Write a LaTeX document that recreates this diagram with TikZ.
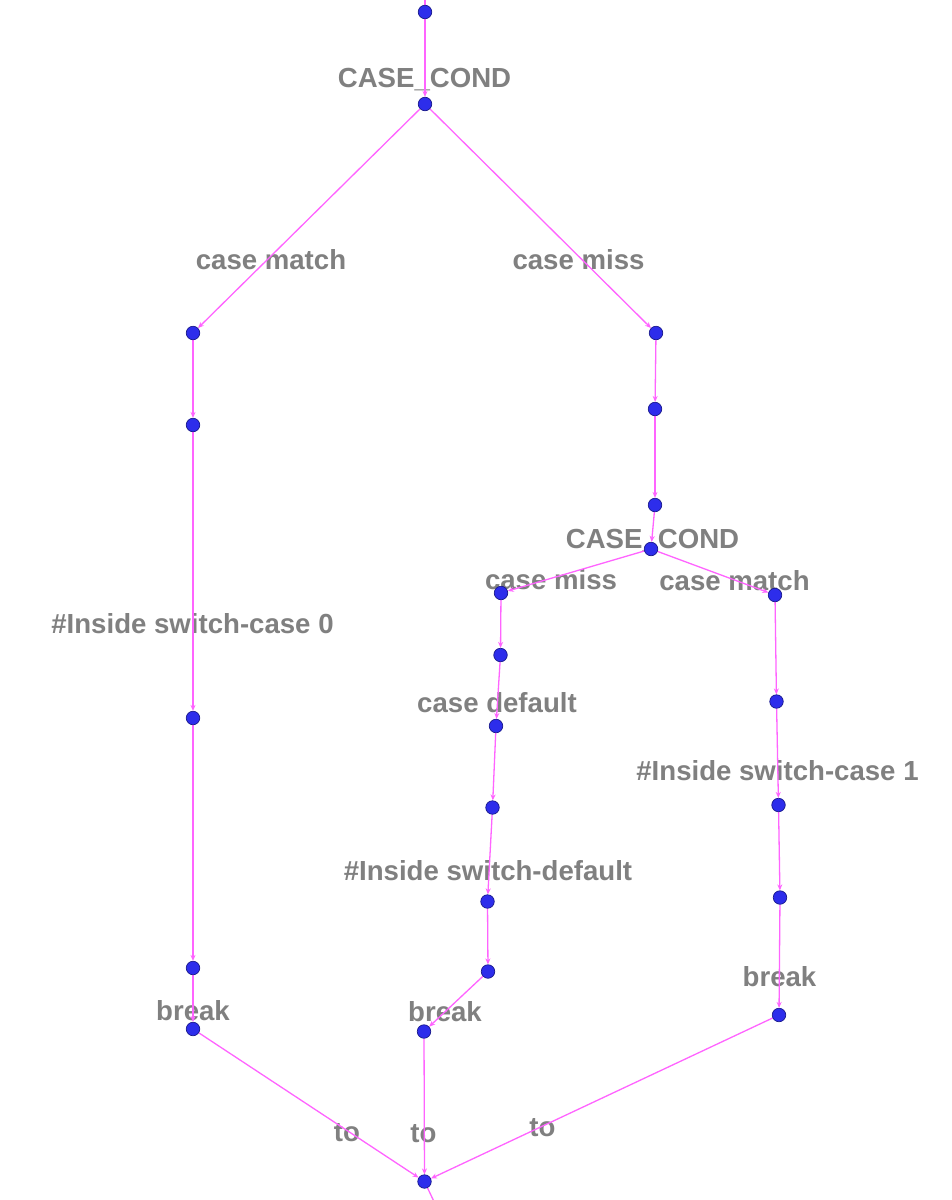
\documentclass[tikz,border=0pt]{standalone}
\usepackage{fontspec}
\setmainfont{Liberation Sans}
\usetikzlibrary{arrows.meta}
\pgfdeclarelayer{back}
\pgfdeclarelayer{front}
\pgfsetlayers{back,main,front}
\definecolor{edgec}{RGB}{255,100,255}
\definecolor{dotc}{RGB}{45,45,235}
\definecolor{dotb}{RGB}{25,25,140}
\definecolor{labc}{RGB}{128,128,128}
\tikzset{
  dot/.style={circle,minimum size=13.5pt,inner sep=0pt,fill=dotc,draw=dotb,line width=0.7pt},
  lab/.style={anchor=base,inner sep=0pt,text=labc,font=\fontsize{27.6pt}{30pt}\selectfont\bfseries},
  edge/.style={draw=edgec,line width=1.3pt,-{Stealth[length=6pt,width=5pt]}},
  plain/.style={draw=edgec,line width=1.3pt}
}
\begin{document}
\begin{tikzpicture}[x=1pt,y=-1pt]
\useasboundingbox (0,0) rectangle (951,1200);
% dots
\begin{pgfonlayer}{front}
\node[dot] (n0) at (425,12) {};
\node[dot] (n1) at (425,104) {};
\node[dot] (n2) at (193,333) {};
\node[dot] (n3) at (193,425) {};
\node[dot] (n4) at (193,718) {};
\node[dot] (n5) at (193,968) {};
\node[dot] (n6) at (193,1029) {};
\node[dot] (m1) at (656,333) {};
\node[dot] (m2) at (655,409) {};
\node[dot] (m3) at (655,505) {};
\node[dot] (c2) at (651,549) {};
\node[dot] (a1) at (501,593) {};
\node[dot] (a2) at (500.5,655) {};
\node[dot] (a3) at (496,726) {};
\node[dot] (a4) at (492.5,807.5) {};
\node[dot] (a5) at (487.5,901.5) {};
\node[dot] (a6) at (488,971.5) {};
\node[dot] (a7) at (424,1031.5) {};
\node[dot] (b1) at (775,595) {};
\node[dot] (b2) at (776.5,701.5) {};
\node[dot] (b3) at (778.5,805) {};
\node[dot] (b4) at (780,897.5) {};
\node[dot] (b5) at (779,1015) {};
\node[dot] (e) at (424.5,1181.5) {};
\end{pgfonlayer}
\coordinate (top) at (425,-10);
\coordinate (bot) at (438,1210);
% labels
\begin{pgfonlayer}{back}
\fill[white] (0,0) rectangle (951,1200);
\node[lab] (l1) at (424.5,87) {CASE\_COND};
\node[lab] (l2) at (271,269) {case match};
\node[lab] (l3) at (578.5,269) {case miss};
\node[lab] (l4) at (192.5,633) {\#Inside switch-case 0};
\node[lab] (l5) at (652.5,548) {CASE\_COND};
\node[lab] (l6) at (551,589) {case miss};
\node[lab] (l7) at (734.5,590) {case match};
\node[lab] (l8) at (497,712.5) {case default};
\node[lab] (l9) at (777.5,780.5) {\#Inside switch-case 1};
\node[lab] (l10) at (488,880.5) {\#Inside switch-default};
\node[lab] (l11) at (779.5,986) {break};
\node[lab] (l12) at (193,1020) {break};
\node[lab] (l13) at (445,1021) {break};
\node[lab] (l14) at (347,1141.5) {to};
\node[lab] (l15) at (423.5,1142) {to};
\node[lab] (l16) at (542.5,1136.5) {to};
\end{pgfonlayer}
% edges
\draw[plain] (top) -- (n0);
\draw[edge] (n0) -- (n1);
\draw[edge] (n1) -- (n2);
\draw[edge] (n1) -- (m1);
\draw[edge] (n2) -- (n3);
\draw[edge] (n3) -- (n4);
\draw[edge] (n4) -- (n5);
\draw[edge] (n5) -- (n6);
\draw[edge] (n6) -- (e);
\draw[edge] (m1) -- (m2);
\draw[edge] (m2) -- (m3);
\draw[edge] (m3) -- (c2);
\draw[edge] (c2) -- (a1);
\draw[edge] (c2) -- (b1);
\draw[edge] (a1) -- (a2);
\draw[edge] (a2) -- (a3);
\draw[edge] (a3) -- (a4);
\draw[edge] (a4) -- (a5);
\draw[edge] (a5) -- (a6);
\draw[edge] (a6) -- (a7);
\draw[edge] (a7) -- (e);
\draw[edge] (b1) -- (b2);
\draw[edge] (b2) -- (b3);
\draw[edge] (b3) -- (b4);
\draw[edge] (b4) -- (b5);
\draw[edge] (b5) -- (e);
\draw[plain] (e) -- (bot);
\end{tikzpicture}
\end{document}
